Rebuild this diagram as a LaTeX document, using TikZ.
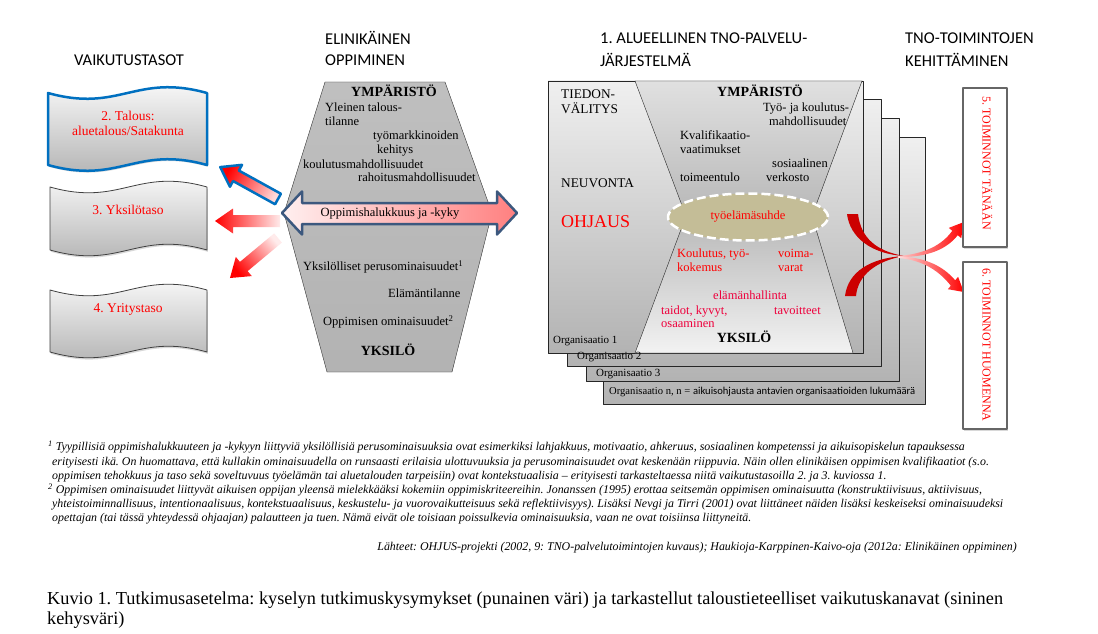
\documentclass[tikz,border=0pt]{standalone}
\usepackage{fontspec}
\setmainfont{Liberation Serif}
\newfontfamily\calib{Carlito}
\usetikzlibrary{shapes.geometric,shadows}
\frenchspacing

\definecolor{kehyssini}{RGB}{0,112,192}
\definecolor{nuolisini}{RGB}{60,88,126}
\definecolor{khaki}{RGB}{196,189,151}
\definecolor{tummapuna}{RGB}{204,0,0}
\definecolor{pinkki}{RGB}{238,0,60}

\tikzset{
  otsikko/.style={inner sep=0pt, anchor=west, font=\calib\fontsize{16.5}{19}\selectfont},
  txt/.style={inner sep=0pt, anchor=west, text height=0.68em, text depth=0.2em,
    font=\fontsize{12.5}{14}\selectfont},
  iso/.style={txt, anchor=center, font=\bfseries\fontsize{14}{16}\selectfont},
  puna/.style={txt, text=red},
  taso/.style={txt, anchor=center, text=red, font=\fontsize{13.5}{16}\selectfont},
  orgteksti/.style={txt, font=\fontsize{13.3}{16}\selectfont},
  orgnimi/.style={txt, font=\fontsize{11}{13}\selectfont},
  viite/.style={txt, font=\itshape\fontsize{11.9}{14}\selectfont},
  varjo/.style={drop shadow={opacity=0.3, shadow xshift=0.8pt, shadow yshift=-1.8pt}},
  banneri/.style={varjo, draw=black!75, line width=0.8pt, top color=white, bottom color=black!32},
  organisaatio/.style={draw=black!85, line width=0.8pt, top color=black!6, bottom color=black!30},
  laatikko/.style={varjo, draw=black!60, line width=1.3pt, fill=white},
}

% aaltoileva lippu: x0, y0, leveys, korkeus
\newcommand{\aalto}[4]{(#1,#2) .. controls ({#1+0.45*#3},{#2+20}) and ({#1+0.55*#3},{#2-20}) .. ({#1+#3},#2)
  -- ({#1+#3},{#2+#4}) .. controls ({#1+0.55*#3},{#2+#4-20}) and ({#1+0.45*#3},{#2+#4+20}) .. (#1,{#2+#4}) -- cycle}
% paksu nuoli, karki kohdassa (pituus,0)
\newcommand{\nuoli}[1]{(0,-6) -- ({#1-18},-6) -- ({#1-18},-12.5) -- (#1,0) -- ({#1-18},12.5) -- ({#1-18},6) -- (0,6) -- cycle}

\begin{document}
\begin{tikzpicture}[x=1pt, y=-1pt, line join=round]
\useasboundingbox[fill=white] (0,0) rectangle (1098,634);

% otsikot
\node[otsikko, anchor=center] (vaik) at (129,60) {VAIKUTUSTASOT};
\node[otsikko] (elin1) at (325,38) {ELINIKÄINEN};
\node[otsikko] (elin2) at (325,60) {OPPIMINEN};
\node[otsikko] (tno1) at (600,38) {1. ALUEELLINEN TNO-PALVELU-};
\node[otsikko] (tno2) at (600,60) {JÄRJESTELMÄ};
\node[otsikko] (keh1) at (905,38) {TNO-TOIMINTOJEN};
\node[otsikko] (keh2) at (905,60) {KEHITTÄMINEN};

% vaikutustasot
\draw[banneri, draw=kehyssini, line width=2.5pt] \aalto{48}{93}{159}{72};
\draw[banneri] \aalto{50}{187}{157}{63};
\draw[banneri] \aalto{50}{290}{157}{62};
\node[taso] (talous1) at (128,118) {2. Talous:};
\node[taso] (talous2) at (128,133) {aluetalous/Satakunta};
\node[taso] (yksilo) at (128,212) {3. Yksilötaso};
\node[taso] (yritys) at (128,310) {4. Yritystaso};

% elinikainen oppiminen
\shade[draw=black!80, top color=black!25, middle color=black!10, bottom color=black!30]
  (325,82) -- (445,82) -- (492,213) -- (452,372) -- (327,372) -- (284,213) -- cycle;

\begin{scope}[shift={(278,199)}, rotate=151.1]
  \shade[draw=kehyssini, line width=2.5pt, left color=red, right color=red!15, shading angle=61.1] \nuoli{66};
\end{scope}
\begin{scope}[shift={(280,221)}, rotate=180]
  \shade[left color=red, right color=red!8, shading angle=90] \nuoli{65};
\end{scope}
\begin{scope}[shift={(278,238)}, rotate=219.8]
  \shade[left color=red, right color=red!8, shading angle=129.8] \nuoli{62.5};
\end{scope}

\shade[draw=nuolisini, line width=2.5pt, left color=red!6, right color=red!50]
  (282,213) -- (302,191.5) -- (302,203) -- (497,203) -- (497,191.5) -- (517,213)
  -- (497,234.5) -- (497,224) -- (302,224) -- (302,234.5) -- cycle;
\node[txt, anchor=center] (halu) at (390,214) {Oppimishalukkuus ja -kyky};

\node[iso] (ymp1) at (394,94) {YMPÄRISTÖ};
\node[txt] (yleinen1) at (325,109) {Yleinen talous-};
\node[txt] (yleinen2) at (325,123) {tilanne};
\node[txt] (tyom1) at (373,137) {työmarkkinoiden};
\node[txt] (tyom2) at (377,151) {kehitys};
\node[txt] (koul) at (303,166) {koulutusmahdollisuudet};
\node[txt] (rah) at (358,179) {rahoitusmahdollisuudet};
\node[txt] (perus) at (303,268) {Yksilölliset perusominaisuudet\textsuperscript{1}};
\node[txt] (elama) at (388,295) {Elämäntilanne};
\node[txt] (omin) at (323,323) {Oppimisen ominaisuudet\textsuperscript{2}};
\node[iso] (yks1) at (388,353) {YKSILÖ};

% TNO-palvelujarjestelma
\foreach \xa/\ya/\xb/\yb in {603/137/925/404, 586/118/899/381, 567/99/881/366, 548/81/863/353}
  \shade[organisaatio] (\xa,\ya) rectangle (\xb,\yb);

\shade[draw=black!85, top color=black!12, bottom color=black!28]
  (635,81) -- (862,81) -- (812,216) -- (686,216) -- cycle;
\shade[draw=black!85, top color=black!28, bottom color=black!5]
  (686,216) -- (812,216) -- (853,353) -- (635,353) -- cycle;

\node[orgnimi] (org1) at (553,341) {Organisaatio 1};
\node[orgnimi] (org2) at (577,357) {Organisaatio 2};
\node[orgnimi] (org3) at (596,374) {Organisaatio 3};
\node[orgnimi, font=\fontsize{10.6}{13}\selectfont] (orgn) at (609,392) {Organisaatio n, n = {\calib aikuisohjausta antavien organisaatioiden lukumäärä}};

\node[orgteksti] (tied1) at (561,96) {TIEDON-};
\node[orgteksti] (tied2) at (561,111) {VÄLITYS};
\node[orgteksti] (neuv) at (561,185) {NEUVONTA};
\node[txt, text=red, font=\fontsize{18}{20}\selectfont] (ohj) at (561,225) {OHJAUS};

\node[iso] (ymp2) at (760,94) {YMPÄRISTÖ};
\node[txt] (tyo1) at (763,109) {Työ- ja koulutus-};
\node[txt] (tyo2) at (769,123) {mahdollisuudet};
\node[txt] (kval1) at (680,137) {Kvalifikaatio-};
\node[txt] (kval2) at (680,151) {vaatimukset};
\node[txt] (sos1) at (772,165) {sosiaalinen};
\node[txt] (sos2) at (766,179) {verkosto};
\node[txt] (toim) at (680,179) {toimeentulo};

\node[ellipse, fill=khaki, draw=white, line width=2.5pt, dash pattern=on 9pt off 4pt,
  minimum width=160pt, minimum height=47pt, inner sep=0pt, text=red,
  font=\fontsize{12.5}{14}\selectfont] (suhde) at (748,217) {työelämäsuhde};

\node[puna] (kok1) at (677,255) {Koulutus, työ-};
\node[puna] (kok2) at (677,269) {kokemus};
\node[puna] (voima1) at (778,255) {voima-};
\node[puna] (voima2) at (778,269) {varat};
\node[puna, text=pinkki] (hall) at (713,297) {elämänhallinta};
\node[puna, text=pinkki] (taid1) at (661,312) {taidot, kyvyt,};
\node[puna, text=pinkki] (taid2) at (661,325) {osaaminen};
\node[puna, text=pinkki] (tav) at (774,312) {tavoitteet};
\node[iso] (yks2) at (744,340) {YKSILÖ};

% TNO-toimintojen kehittaminen
\fill[tummapuna] (847,214) .. controls (850,238) and (872,254) .. (904,256)
  .. controls (876,251) and (861,238) .. (858,214) -- cycle;
\fill[tummapuna] (845,296) .. controls (848,272) and (870,258) .. (904,256)
  .. controls (876,261) and (858,275) .. (856,296) -- cycle;
\shade[left color=red!20, right color=red] (898,256) .. controls (925,254) and (942,245) .. (952.3,230.8)
  -- (948.8,227.9) -- (964,222) -- (961.2,238.1) -- (957.7,235.2)
  .. controls (947,249) and (928,257.5) .. (898,257) -- cycle;
\shade[left color=red!12, right color=red] (898,256.5) .. controls (925,257) and (943,266) .. (955.2,280.3)
  -- (958.1,276.8) -- (963.8,292) -- (947.9,289.2) -- (950.8,285.7)
  .. controls (940,272) and (924,260) .. (898,258) -- cycle;

\draw[laatikko] (963,88) rectangle (1007,247);
\draw[laatikko] (963,262) rectangle (1007,429);
\node[txt, anchor=center, rotate=-90, text=red, font=\fontsize{12}{14}\selectfont] (tanaan) at (985,163) {5. TOIMINNOT TÄNÄÄN};
\node[txt, anchor=center, rotate=-90, text=red, font=\fontsize{12}{14}\selectfont] (huom) at (985,345) {6. TOIMINNOT HUOMENNA};

% alaviitteet
\node[viite] (viite1) at (48,448) {\textsuperscript{1} Tyypillisiä oppimishalukkuuteen ja -kykyyn liittyviä yksilöllisiä perusominaisuuksia ovat esimerkiksi lahjakkuus, motivaatio, ahkeruus, sosiaalinen kompetenssi ja aikuisopiskelun tapauksessa};
\node[viite] (viite2) at (52,463) {erityisesti ikä. On huomattava, että kullakin ominaisuudella on runsaasti erilaisia ulottuvuuksia ja perusominaisuudet ovat keskenään riippuvia. Näin ollen elinikäisen oppimisen kvalifikaatiot (s.o.};
\node[viite] (viite3) at (52,477) {oppimisen tehokkuus ja taso sekä soveltuvuus työelämän tai aluetalouden tarpeisiin) ovat kontekstuaalisia – erityisesti tarkasteltaessa niitä vaikutustasoilla 2. ja 3. kuviossa 1.};
\node[viite] (viite4) at (48,491) {\textsuperscript{2} Oppimisen ominaisuudet liittyvät aikuisen oppijan yleensä mielekkääksi kokemiin oppimiskriteereihin. Jonanssen (1995) erottaa seitsemän oppimisen ominaisuutta (konstruktiivisuus, aktiivisuus,};
\node[viite] (viite5) at (52,505) {yhteistoiminnallisuus, intentionaalisuus, kontekstuaalisuus, keskustelu- ja vuorovaikutteisuus sekä reflektiivisyys). Lisäksi Nevgi ja Tirri (2001) ovat liittäneet näiden lisäksi keskeiseksi ominaisuudeksi};
\node[viite] (viite6) at (52,519) {opettajan (tai tässä yhteydessä ohjaajan) palautteen ja tuen. Nämä eivät ole toisiaan poissulkevia ominaisuuksia, vaan ne ovat toisiinsa liittyneitä.};
\node[viite, anchor=east] (lahteet) at (1017,548) {Lähteet: OHJUS-projekti (2002, 9: TNO-palvelutoimintojen kuvaus); Haukioja-Karppinen-Kaivo-oja (2012a: Elinikäinen oppiminen)};

\node[txt, font=\fontsize{18.3}{20}\selectfont] (kuvio1) at (47,602) {Kuvio 1. Tutkimusasetelma: kyselyn tutkimuskysymykset (punainen väri) ja tarkastellut taloustieteelliset vaikutuskanavat (sininen};
\node[txt, font=\fontsize{18.3}{20}\selectfont] (kuvio2) at (47,622) {kehysväri)};
\end{tikzpicture}
\end{document}
